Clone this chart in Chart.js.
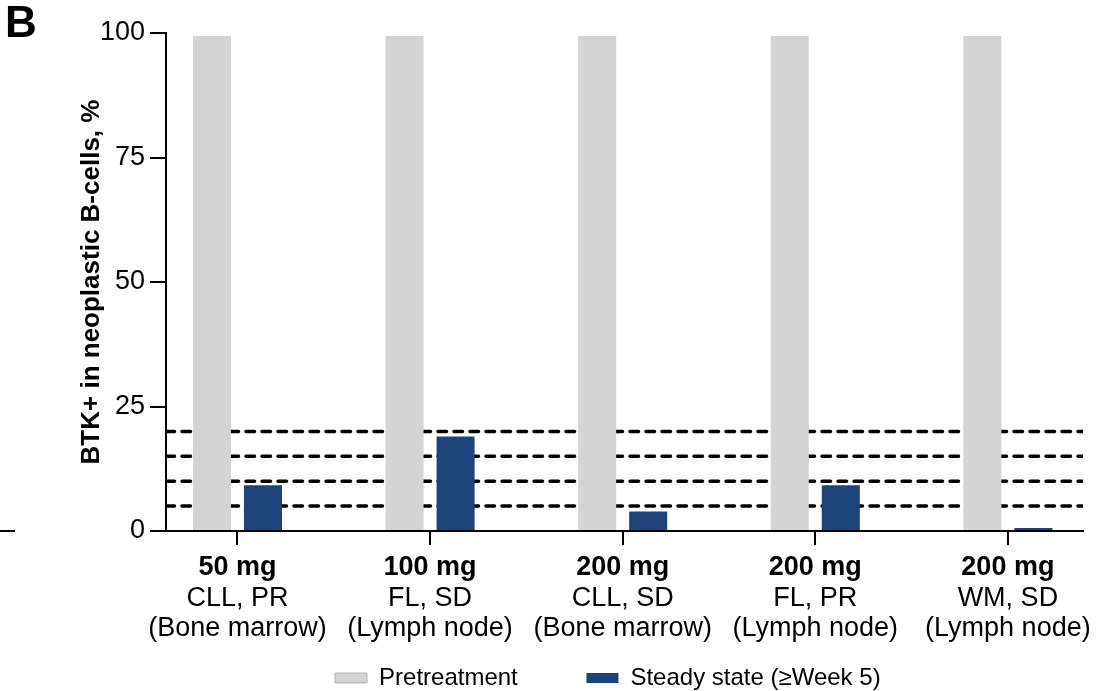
<!DOCTYPE html>
<html>
<head>
<meta charset="utf-8">
<script src="https://cdn.jsdelivr.net/npm/chart.js@4/dist/chart.umd.min.js"></script>
<style>
  html, body { margin: 0; padding: 0; background: #fff; }
  #wrap { width: 1109px; height: 691px; position: relative; }
</style>
</head>
<body>
<div id="wrap"><canvas id="btkChart"></canvas></div>
<script>
// values
const doses = ['50 mg', '100 mg', '200 mg', '200 mg', '200 mg'];
const diagnoses = ['CLL, PR', 'FL, SD', 'CLL, SD', 'FL, PR', 'WM, SD'];
const tissues = ['(Bone marrow)', '(Lymph node)', '(Bone marrow)', '(Lymph node)', '(Lymph node)'];
const pretreatment = [99.4, 99.4, 99.4, 99.4, 99.4];
const steadyState = [9.2, 19.0, 3.9, 9.2, 0.6];
const thresholds = [5, 10, 15, 20];
const yTicks = [0, 25, 50, 75, 100];
const seriesNames = ['Pretreatment', 'Steady state (\u2265Week 5)'];

const FONT = "Arial, 'Liberation Sans', Helvetica, sans-serif";
const X_MIN = -0.371;
const X_MAX = 4.39;

var ctx = document.getElementById('btkChart').getContext('2d');

const catIdx = doses.map((d, i) => i);

// dashed reference lines, drawn behind the bars
const thresholdSets = thresholds.map(t => ({
    type: 'line',
    label: 'ref' + t,
    data: [{ x: X_MIN, y: t }, { x: X_MAX, y: t }],
    borderColor: '#000',
    borderWidth: 3.5,
    borderDash: [8.5, 7.5],
    borderCapStyle: 'round',
    pointRadius: 0,
    order: 5
}));

// x labels with a bold first line, panel letter and the stray tick at the left edge
const extrasPlugin = {
    id: 'extras',
    afterDraw(chart) {
        const c = chart.ctx;
        const xs = chart.scales.x;
        const base = chart.chartArea.bottom;
        c.save();
        c.fillStyle = '#000';
        c.textAlign = 'center';
        c.textBaseline = 'middle';
        catIdx.forEach(i => {
            const px = xs.getPixelForValue(i);
            c.font = 'bold 27px ' + FONT;
            c.fillText(doses[i], px, base + 37);
            c.font = '27px ' + FONT;
            c.fillText(diagnoses[i], px, base + 68);
            c.fillText(tissues[i], px, base + 98);
        });
        c.textAlign = 'left';
        c.textBaseline = 'top';
        c.font = 'bold 44px ' + FONT;
        c.fillText('B', 5, 3);
        c.strokeStyle = '#000';
        c.lineWidth = 2;
        c.beginPath();
        c.moveTo(0, chart.scales.y.getPixelForValue(0));
        c.lineTo(15, chart.scales.y.getPixelForValue(0));
        c.stroke();
        c.restore();
    }
};

const chart = new Chart(ctx, {
    type: 'bar',
    data: {
        datasets: [
            {
                label: seriesNames[0],
                data: catIdx.map(i => ({ x: i, y: pretreatment[i] })),
                backgroundColor: '#d4d4d4',
                borderColor: '#b4b4b4',
                borderWidth: 0,
                order: 1
            },
            {
                label: seriesNames[1],
                data: catIdx.map(i => ({ x: i, y: steadyState[i] })),
                backgroundColor: '#1e437b',
                borderColor: '#1e437b',
                borderWidth: 0,
                order: 1
            }
        ].concat(thresholdSets)
    },
    options: {
        responsive: true,
        maintainAspectRatio: false,
        animation: false,
        categoryPercentage: 0.53,
        barPercentage: 0.745,
        layout: { padding: { top: 33, right: 26, left: 0, bottom: -9 } },
        scales: {
            x: {
                type: 'linear',
                min: X_MIN,
                max: X_MAX,
                offset: false,
                afterBuildTicks: s => { s.ticks = catIdx.map(v => ({ value: v })); },
                afterFit: s => { s.height = 133; },
                ticks: { callback: () => '', font: { size: 10 } },
                grid: { display: true, offset: false, drawOnChartArea: false, drawTicks: true, tickLength: 14, color: '#000', lineWidth: 2 },
                border: { display: true, color: '#000', width: 2 }
            },
            y: {
                min: 0,
                max: 100,
                afterBuildTicks: s => { s.ticks = yTicks.map(v => ({ value: v })); },
                afterFit: s => { s.width = 166; },
                ticks: { color: '#000', padding: 5, font: { family: FONT, size: 27 } },
                grid: { display: true, drawOnChartArea: false, drawTicks: true, tickLength: 16, color: '#000', lineWidth: 2 },
                border: { display: true, color: '#000', width: 2 },
                title: {
                    display: true,
                    text: 'BTK+ in neoplastic B-cells, %',
                    color: '#000',
                    font: { family: FONT, size: 26, weight: 'bold' },
                    padding: { top: 76, bottom: 0 }
                }
            }
        },
        plugins: {
            legend: {
                position: 'bottom',
                fullSize: false,
                labels: {
                    color: '#000',
                    font: { family: FONT, size: 24 },
                    boxWidth: 32,
                    boxHeight: 10,
                    padding: 2,
                    filter: item => item.datasetIndex < 2,
                    generateLabels: function (ch) {
                        const items = Chart.defaults.plugins.legend.labels.generateLabels(ch);
                        items.forEach(it => {
                            // trailing blanks only space the entries like the figure
                            it.text = it.text + (it.datasetIndex === 0 ? '          ' : '     ');
                            it.lineWidth = it.datasetIndex === 0 ? 1 : 0;
                            it.strokeStyle = '#b4b4b4';
                        });
                        return items;
                    }
                }
            },
            tooltip: { enabled: false }
        }
    },
    plugins: [extrasPlugin]
});
</script>
</body>
</html>
